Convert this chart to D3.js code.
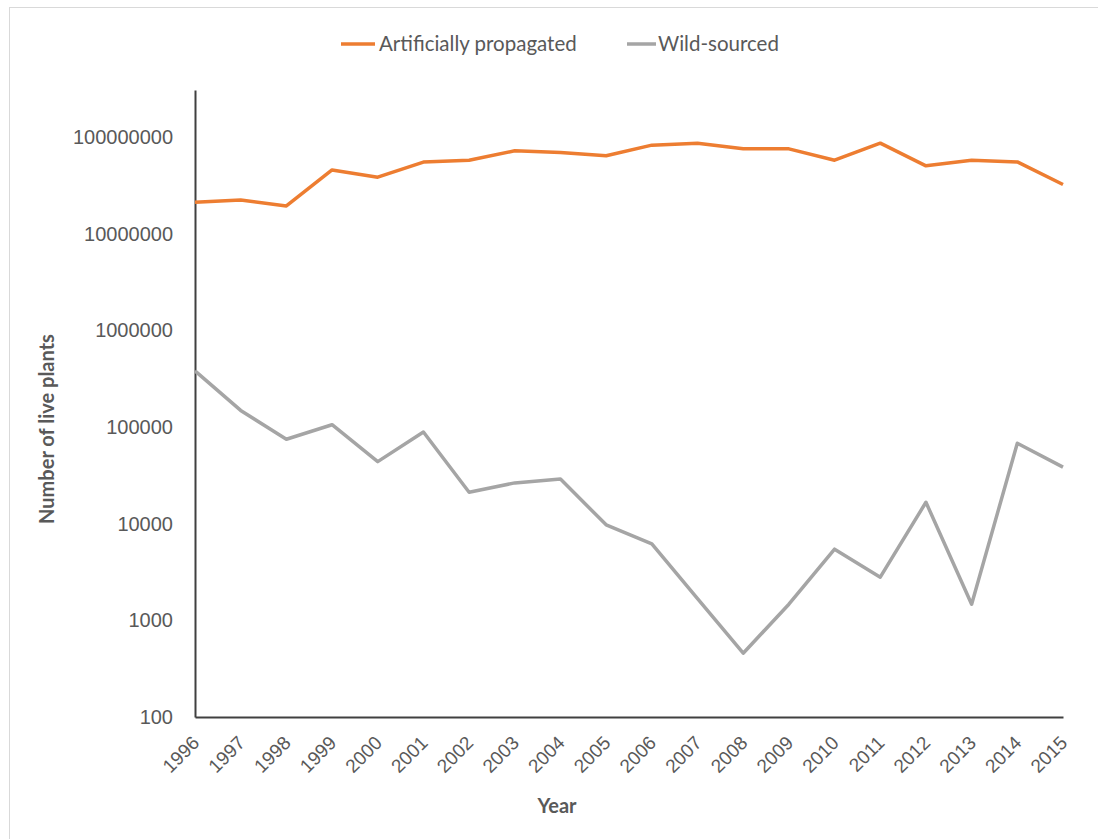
<!DOCTYPE html>
<html><head><meta charset="utf-8">
<script src="https://cdn.jsdelivr.net/npm/d3@7"></script>
<style>body{margin:0;background:#fff;} svg{display:block;font-family:Lato,"Open Sans",sans-serif;}</style>
</head><body>
<svg id="c" width="1098" height="839"></svg>
<script>
const years = [1996,1997,1998,1999,2000,2001,2002,2003,2004,2005,2006,2007,2008,2009,2010,2011,2012,2013,2014,2015];
const artificial = [21300000,22500000,19500000,46000000,38700000,55400000,58000000,72500000,69600000,64500000,83000000,87000000,76000000,76000000,58000000,87000000,50700000,58000000,55700000,32500000];
const wild = [383000,149000,75000,106000,44000,89000,21200,26500,29000,9750,6200,1680,457,1470,5460,2800,16700,1470,68200,38600];
const yTicks = [100,1000,10000,100000,1000000,10000000,100000000];
const seriesNames = ["Artificially propagated","Wild-sourced"];
const colors = ["#ed7d31","#a5a5a5"];

const svg = d3.select("#c");
svg.append("rect").attr("x",9.5).attr("y",7.5).attr("width",1200).attr("height",1000)
  .attr("fill","none").attr("stroke","#d9d9d9").attr("stroke-width",1);

const x = d3.scalePoint().domain(years).range([195,1063]);
const y = d3.scaleLog().domain([100, Math.pow(10,8.49)]).range([717,90]);

// axes
const yAxis = d3.axisLeft(y).tickValues(yTicks).tickFormat(d3.format("d")).tickSize(0).tickPadding(22);
const gy = svg.append("g").attr("transform","translate(195,0)").call(yAxis);
gy.select(".domain").attr("stroke","#404040").attr("stroke-width",2);
gy.selectAll("text").attr("fill","#595959").style("font-size","20px");

const xAxis = d3.axisBottom(x).tickSize(0).tickPadding(0);
const gx = svg.append("g").attr("transform","translate(0,717)").call(xAxis);
gx.select(".domain").attr("stroke","#404040").attr("stroke-width",2);
gx.selectAll("text").attr("fill","#595959").style("font-size","19px")
  .attr("text-anchor","end").attr("dy",null).attr("y",0)
  .attr("transform","translate(5,27) rotate(-45)");

// lines
const line = d3.line().x((d,i)=>x(years[i])).y(d=>y(d));
[artificial, wild].forEach((s,i)=>{
  svg.append("path").datum(s).attr("d",line).attr("fill","none")
    .attr("stroke",colors[i]).attr("stroke-width",3.5).attr("stroke-linejoin","round");
});

// axis titles
svg.append("text").attr("x",557).attr("y",813).attr("text-anchor","middle")
  .attr("fill","#595959").style("font-size","20px").style("font-weight","bold").text("Year");
svg.append("text").attr("transform","translate(54,429) rotate(-90)").attr("text-anchor","middle")
  .attr("fill","#595959").style("font-size","20px").style("font-weight","bold").text("Number of live plants");

// legend
const leg = [{x:341,tx:379},{x:627,tx:658}];
seriesNames.forEach((n,i)=>{
  svg.append("line").attr("x1",leg[i].x).attr("x2",leg[i].x+(i?29:34)).attr("y1",44).attr("y2",44)
    .attr("stroke",colors[i]).attr("stroke-width",3.5);
  svg.append("text").attr("x",leg[i].tx).attr("y",51).attr("fill","#595959")
    .style("font-size","20.5px").text(n);
});
</script>
</body></html>
